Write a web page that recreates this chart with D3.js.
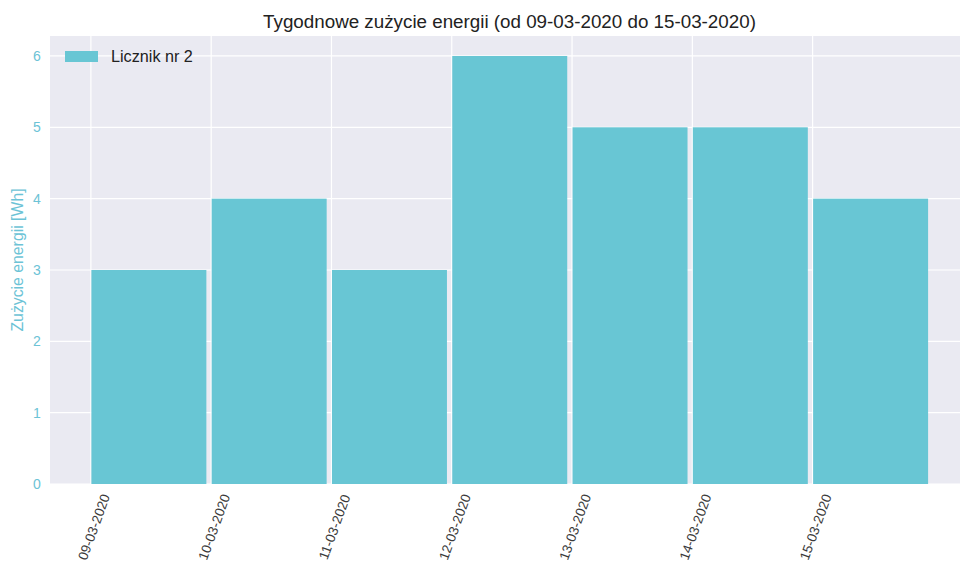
<!DOCTYPE html>
<html><head><meta charset="utf-8">
<script src="https://cdn.jsdelivr.net/npm/d3@7"></script>
<style>body{margin:0;background:#fff;} text{font-family:"Liberation Sans",Arial,sans-serif;}</style>
</head><body>
<svg id="c" width="960" height="562"></svg>
<script>
const categories = ["09-03-2020","10-03-2020","11-03-2020","12-03-2020","13-03-2020","14-03-2020","15-03-2020"];
const values = [3,4,3,6,5,5,4];
const yTicks = [0,1,2,3,4,5,6];
const title = "Tygodnowe zużycie energii (od 09-03-2020 do 15-03-2020)";
const yLabel = "Zużycie energii [Wh]";
const seriesName = "Licznik nr 2";

const svg = d3.select("#c");
const pL = 50, pR = 969, pT = 36, pB = 484;
const x = d3.scaleLinear().domain([-0.34, 7.3]).range([pL, pR]);
const y = d3.scaleLinear().domain([0, 6.28]).range([pB, pT]);

svg.append("rect").attr("x", pL).attr("y", pT).attr("width", pR-pL).attr("height", pB-pT).attr("fill", "#eaeaf2");

// grid
svg.append("g").selectAll("line").data(yTicks).join("line")
  .attr("x1", pL).attr("x2", pR).attr("y1", d=>y(d)).attr("y2", d=>y(d))
  .attr("stroke", "#fff").attr("stroke-width", 1.2);
svg.append("g").selectAll("line").data(categories).join("line")
  .attr("x1", (d,i)=>x(i)).attr("x2", (d,i)=>x(i)).attr("y1", pT).attr("y2", pB)
  .attr("stroke", "#fff").attr("stroke-width", 1.2);

// bars
const bw = 0.96;
svg.append("g").selectAll("rect").data(values).join("rect")
  .attr("x", (d,i)=>x(i)+0.5)
  .attr("width", (d,i)=>x(i+bw)-x(i)-0.5)
  .attr("y", d=>y(d))
  .attr("height", d=>y(0)-y(d))
  .attr("fill", "#68c6d4");

// y axis tick labels
svg.append("g").selectAll("text").data(yTicks).join("text")
  .attr("x", 37).attr("y", d=>y(d)+5).attr("text-anchor","middle")
  .attr("font-size", 14).attr("fill", "#6cc3d6").text(d=>d);

// y label
svg.append("text").attr("transform", `translate(23,${(pT+pB)/2}) rotate(-90)`)
  .attr("text-anchor","middle").attr("font-size", 15.8).attr("fill", "#6cc3d6").text(yLabel);

// x tick labels
svg.append("g").selectAll("text").data(categories).join("text")
  .attr("transform", (d,i)=>`translate(${x(i)+3},${pB+43}) rotate(-70)`)
  .attr("text-anchor","middle").attr("dy","0.35em")
  .attr("font-size", 13.5).attr("fill", "#3a3a3a").text(d=>d);

// title
svg.append("text").attr("x", (pL+pR)/2).attr("y", 28).attr("text-anchor","middle")
  .attr("font-size", 18.8).attr("fill", "#222").text(title);

// legend
svg.append("rect").attr("x", 65).attr("y", 51).attr("width", 33).attr("height", 11).attr("fill", "#68c6d4");
svg.append("text").attr("x", 111).attr("y", 62).attr("font-size", 16.2).attr("fill", "#222").text(seriesName);
</script>
</body></html>
